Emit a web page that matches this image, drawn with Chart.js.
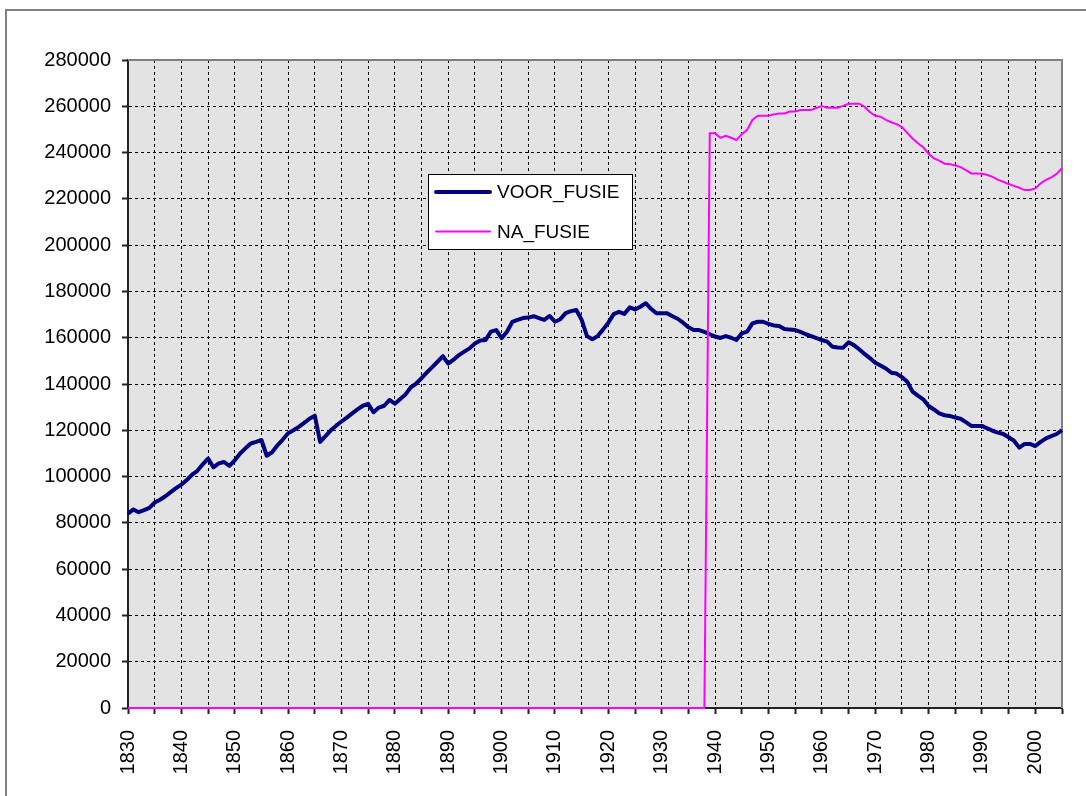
<!DOCTYPE html>
<html>
<head>
<meta charset="utf-8">
<script src="https://cdn.jsdelivr.net/npm/chart.js@4.4.1/dist/chart.umd.min.js"></script>
<style>
  html, body { margin: 0; padding: 0; background: #fff; }
  canvas { display: block; }
</style>
</head>
<body>
<canvas id="fusieChart" width="1086" height="796"></canvas>
<script>
// jaren (categorieen)
var jaren = [
  1830, 1831, 1832, 1833, 1834, 1835, 1836, 1837, 1838, 1839,
  1840, 1841, 1842, 1843, 1844, 1845, 1846, 1847, 1848, 1849,
  1850, 1851, 1852, 1853, 1854, 1855, 1856, 1857, 1858, 1859,
  1860, 1861, 1862, 1863, 1864, 1865, 1866, 1867, 1868, 1869,
  1870, 1871, 1872, 1873, 1874, 1875, 1876, 1877, 1878, 1879,
  1880, 1881, 1882, 1883, 1884, 1885, 1886, 1887, 1888, 1889,
  1890, 1891, 1892, 1893, 1894, 1895, 1896, 1897, 1898, 1899,
  1900, 1901, 1902, 1903, 1904, 1905, 1906, 1907, 1908, 1909,
  1910, 1911, 1912, 1913, 1914, 1915, 1916, 1917, 1918, 1919,
  1920, 1921, 1922, 1923, 1924, 1925, 1926, 1927, 1928, 1929,
  1930, 1931, 1932, 1933, 1934, 1935, 1936, 1937, 1938, 1939,
  1940, 1941, 1942, 1943, 1944, 1945, 1946, 1947, 1948, 1949,
  1950, 1951, 1952, 1953, 1954, 1955, 1956, 1957, 1958, 1959,
  1960, 1961, 1962, 1963, 1964, 1965, 1966, 1967, 1968, 1969,
  1970, 1971, 1972, 1973, 1974, 1975, 1976, 1977, 1978, 1979,
  1980, 1981, 1982, 1983, 1984, 1985, 1986, 1987, 1988, 1989,
  1990, 1991, 1992, 1993, 1994, 1995, 1996, 1997, 1998, 1999,
  2000, 2001, 2002, 2003, 2004, 2005
];

// inwoners voor de fusie
var voorFusie = [
  84000, 85800, 84600, 85500, 86500, 88800, 90000, 91500, 93300, 95000,
  96500, 98500, 100800, 102500, 105300, 107800, 104000, 105700, 106300, 104600,
  107000, 110000, 112200, 114300, 115000, 115800, 109000, 110500, 113500, 116000,
  118700, 120000, 121500, 123200, 125000, 126300, 115000, 117500, 120000, 122000,
  123800, 125500, 127300, 129000, 130600, 131400, 127800, 129800, 130600, 133100,
  131500, 133500, 135500, 138600, 140200, 142500, 145000, 147300, 149600, 152000,
  148800, 150500, 152500, 154000, 155400, 157500, 158800, 159000, 162600, 163300,
  159800, 162600, 166800, 167700, 168500, 168700, 169300, 168500, 167700, 169400,
  166900, 168000, 170600, 171500, 172000, 167700, 160700, 159300, 160700, 163500,
  166500, 170200, 171200, 170300, 173100, 172200, 173400, 174900, 172500, 170600,
  170600, 170600, 169300, 168200, 166500, 164500, 163300, 163300, 162500, 161500,
  160500, 159900, 160700, 160000, 159000, 161900, 162600, 166200, 166900, 166900,
  166000, 165300, 165100, 163800, 163500, 163300, 162500, 161500, 160700, 159800,
  159000, 158300, 156100, 155800, 155700, 158000, 156800, 155000, 153000, 151200,
  149200, 148000, 146700, 144900, 144500, 143000, 141000, 136700, 135000, 133400,
  130500, 129000, 127300, 126500, 126200, 125500, 125000, 123500, 121900, 121900,
  121900, 120800, 119800, 119000, 118400, 117000, 115500, 112500, 114100, 114100,
  113200, 115000, 116500, 117500, 118400, 120100
];

// inwoners na de fusie
var naFusie = [
  0, 0, 0, 0, 0, 0, 0, 0, 0, 0,
  0, 0, 0, 0, 0, 0, 0, 0, 0, 0,
  0, 0, 0, 0, 0, 0, 0, 0, 0, 0,
  0, 0, 0, 0, 0, 0, 0, 0, 0, 0,
  0, 0, 0, 0, 0, 0, 0, 0, 0, 0,
  0, 0, 0, 0, 0, 0, 0, 0, 0, 0,
  0, 0, 0, 0, 0, 0, 0, 0, 0, 0,
  0, 0, 0, 0, 0, 0, 0, 0, 0, 0,
  0, 0, 0, 0, 0, 0, 0, 0, 0, 0,
  0, 0, 0, 0, 0, 0, 0, 0, 0, 0,
  0, 0, 0, 0, 0, 0, 0, 0, 0, 248300,
  248300, 246400, 247200, 246400, 245400, 247900, 249800, 254100, 255900, 255900,
  255900, 256500, 256900, 256900, 257700, 257700, 258400, 258400, 258400, 259300,
  260100, 259400, 259400, 259400, 260200, 261100, 261100, 261100, 259800, 257500,
  255900, 255500, 254100, 253100, 252300, 251000, 248500, 246100, 244000, 242300,
  239500, 237500, 236500, 235200, 235000, 234400, 233700, 232400, 231000, 231000,
  230900, 230300, 229500, 228200, 227400, 226400, 225600, 224800, 223800, 223800,
  224500, 226700, 228200, 229300, 230800, 233200
];

var yMin = 0;
var yMax = 280000;
var yStap = 20000;

var lettertype = '"Liberation Sans", Arial, sans-serif';

// achtergrond, kaders
var kaderPlugin = {
  id: 'kader',
  beforeDraw: function (chart) {
    var ctx = chart.ctx;
    var a = chart.chartArea;
    ctx.save();
    ctx.fillStyle = '#ffffff';
    ctx.fillRect(0, 0, chart.width, chart.height);
    ctx.strokeStyle = '#808080';
    ctx.lineWidth = 2;
    ctx.strokeRect(6, 10, 1200, 1000);
    ctx.fillStyle = '#e3e3e3';
    ctx.fillRect(a.left, a.top, a.right - a.left, a.bottom - a.top);
    ctx.restore();
  },
  beforeDatasetsDraw: function (chart) {
    var ctx = chart.ctx;
    var a = chart.chartArea;
    ctx.save();
    ctx.strokeStyle = '#808080';
    ctx.lineWidth = 2;
    ctx.beginPath();
    ctx.moveTo(a.left, a.top);
    ctx.lineTo(a.right, a.top);
    ctx.lineTo(a.right, a.bottom);
    ctx.stroke();
    ctx.restore();
  }
};

// legenda in de grafiek
var legendaPlugin = {
  id: 'legenda',
  afterDatasetsDraw: function (chart) {
    var ctx = chart.ctx;
    ctx.save();
    ctx.fillStyle = '#ffffff';
    ctx.fillRect(428, 174, 204, 75);
    ctx.strokeStyle = '#000000';
    ctx.lineWidth = 1;
    ctx.strokeRect(428.5, 174.5, 204, 75);
    chart.data.datasets.forEach(function (ds, i) {
      var y = 192 + i * 39.5;
      ctx.strokeStyle = ds.borderColor;
      ctx.lineWidth = ds.borderWidth;
      ctx.lineCap = 'round';
      ctx.beginPath();
      ctx.moveTo(436, y);
      ctx.lineTo(490, y);
      ctx.stroke();
      ctx.fillStyle = '#000000';
      ctx.font = '19px ' + lettertype;
      ctx.textBaseline = 'middle';
      ctx.fillText(ds.label, 497, y + 1);
    });
    ctx.restore();
  }
};

var ctx = document.getElementById('fusieChart');

new Chart(ctx, {
  type: 'line',
  data: {
    labels: jaren,
    datasets: [{
      label: 'VOOR_FUSIE',
      data: voorFusie,
      borderColor: '#000080',
      borderWidth: 4,
      pointRadius: 0,
      tension: 0,
      borderJoinStyle: 'round',
      order: 1
    }, {
      label: 'NA_FUSIE',
      data: naFusie,
      borderColor: '#ff00ff',
      borderWidth: 2,
      pointRadius: 0,
      tension: 0,
      clip: false,
      order: 0
    }]
  },
  options: {
    responsive: false,
    animation: false,
    devicePixelRatio: 1,
    layout: { padding: { top: 60, right: 24, left: 0, bottom: 0 } },
    plugins: {
      legend: { display: false },
      tooltip: { enabled: false }
    },
    scales: {
      x: {
        type: 'category',
        offset: false,
        afterFit: function (scale) {
          scale.height = 88;
          scale.paddingLeft = 0;
          scale.paddingRight = 0;
        },
        grid: {
          color: function (c) { return (jaren[c.index] % 5 === 0) ? '#000000' : 'rgba(0,0,0,0)'; },
          tickColor: function (c) { return (jaren[c.index] % 5 === 0) ? '#222222' : 'rgba(0,0,0,0)'; },
          lineWidth: 1,
          tickLength: 6,
          tickWidth: 2,
          tickBorderDash: []
        },
        border: { display: true, color: '#222222', width: 2, dash: [3, 3] },
        ticks: {
          autoSkip: false,
          maxRotation: 90,
          minRotation: 90,
          padding: 16,
          color: '#000000',
          font: { family: lettertype, size: 20 },
          callback: function (val, i) { return (jaren[i] % 10 === 0) ? String(jaren[i]) : ''; }
        }
      },
      y: {
        min: yMin,
        max: yMax,
        afterFit: function (scale) { scale.width = 128; },
        grid: {
          color: '#000000',
          tickColor: '#222222',
          lineWidth: 1,
          tickLength: 6,
          tickWidth: 2,
          tickBorderDash: []
        },
        border: { display: true, color: '#222222', width: 2, dash: [3, 3] },
        ticks: {
          stepSize: yStap,
          padding: 11,
          color: '#000000',
          font: { family: lettertype, size: 20 },
          callback: function (v) { return String(v); }
        }
      }
    }
  },
  plugins: [kaderPlugin, legendaPlugin]
});
</script>
</body>
</html>
